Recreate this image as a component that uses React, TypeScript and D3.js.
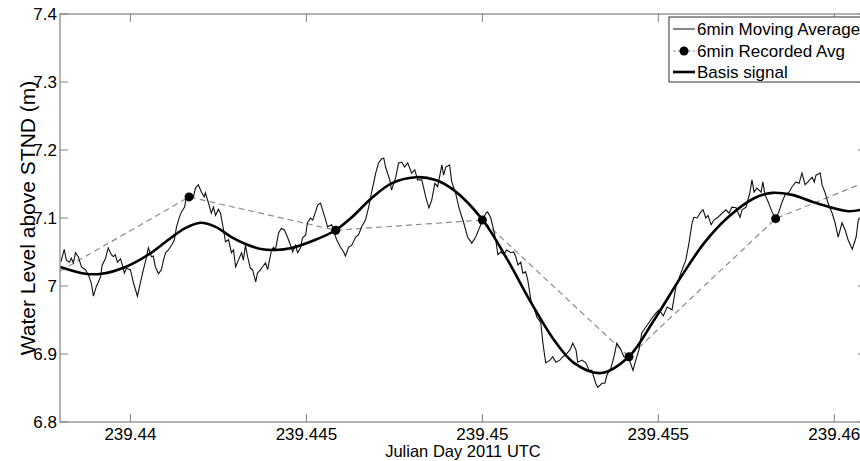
import React from "react";
import * as d3 from "d3";

// values
const xTicks = [239.44, 239.445, 239.45, 239.455, 239.46];
const yTicks = [6.8, 6.9, 7, 7.1, 7.2, 7.3, 7.4];

// 6 minute recorded averages (first and last fall just outside the view)
const recDays = [239.4375, 239.441667, 239.445833, 239.45, 239.454167, 239.458333, 239.4625];
const recLevel = [7.007, 7.131, 7.082, 7.097, 6.896, 7.099, 7.187];

// smooth basis signal
const basisDays = [
  239.43801, 239.43872, 239.43918, 239.43986, 239.44051, 239.44108, 239.44156, 239.44199,
  239.44242, 239.44287, 239.44336, 239.44375, 239.44412, 239.44458, 239.44526, 239.44583,
  239.44629, 239.44685, 239.44742, 239.44811, 239.44867, 239.44919, 239.45001, 239.45072,
  239.45138, 239.45203, 239.4526, 239.45337, 239.45416, 239.45488, 239.45564, 239.4563,
  239.45698, 239.45772, 239.45823, 239.4588, 239.45937, 239.45994, 239.46042, 239.46076,
];
const basisLevel = [
  7.028, 7.018, 7.018, 7.028, 7.046, 7.068, 7.085, 7.093,
  7.087, 7.072, 7.06, 7.054, 7.053, 7.056, 7.068, 7.082,
  7.101, 7.129, 7.151, 7.16, 7.156, 7.141, 7.097, 7.038,
  6.976, 6.921, 6.887, 6.872, 6.896, 6.95, 7.013, 7.063,
  7.101, 7.129, 7.137, 7.134, 7.124, 7.115, 7.11, 7.112,
];

// 6 minute moving average [day, level]
const movingAvg: [number, number][] = [
  [239.43803,7.036],[239.43812,7.054],[239.43818,7.038],[239.43827,7.035],[239.43832,7.041],[239.43838,7.034],[239.43844,7.049],[239.43852,7.043],[239.43861,7.028],[239.43872,7.024],[239.43881,7.016],[239.43889,7.004],[239.43895,6.985],[239.43903,6.999],[239.43915,7.013],[239.4392,7.031],[239.43929,7.04],[239.43937,7.056],[239.43946,7.046],[239.43952,7.043],[239.43957,7.046],[239.43963,7.035],[239.43972,7.04],[239.43977,7.031],[239.43983,7.019],[239.43989,7.026],[239.44,7.024],[239.44009,7.004],[239.4402,6.985],[239.44028,7.004],[239.44037,7.024],[239.44046,7.043],[239.44051,7.056],[239.4406,7.043],[239.44065,7.044],[239.44071,7.028],[239.4408,7.018],[239.44088,7.024],[239.44094,7.038],[239.441,7.049],[239.44108,7.053],[239.44117,7.06],[239.44125,7.068],[239.44131,7.087],[239.44139,7.101],[239.44145,7.109],[239.44154,7.116],[239.44159,7.131],[239.44171,7.135],[239.44179,7.131],[239.44185,7.144],[239.44193,7.149],[239.44202,7.138],[239.4421,7.131],[239.44213,7.137],[239.44222,7.122],[239.4423,7.107],[239.44236,7.116],[239.44242,7.104],[239.4425,7.113],[239.44256,7.107],[239.44265,7.082],[239.4427,7.065],[239.44279,7.068],[239.44287,7.049],[239.44293,7.053],[239.44299,7.028],[239.44307,7.038],[239.44316,7.049],[239.44321,7.038],[239.44327,7.06],[239.44333,7.043],[239.44341,7.026],[239.44347,7.024],[239.44356,7.006],[239.44361,7.019],[239.4437,7.024],[239.44375,7.028],
  [239.44384,7.034],[239.4439,7.024],[239.44401,7.053],[239.44407,7.057],[239.44412,7.053],[239.44421,7.078],[239.44429,7.085],[239.44438,7.082],[239.44447,7.071],[239.44455,7.06],[239.44461,7.05],[239.44469,7.06],[239.44475,7.049],[239.44484,7.057],[239.44489,7.071],[239.44498,7.075],[239.44503,7.093],[239.44512,7.1],[239.44518,7.097],[239.44526,7.109],[239.44532,7.119],[239.4454,7.122],[239.44546,7.112],[239.44555,7.097],[239.4456,7.087],[239.44572,7.09],[239.44577,7.082],[239.44586,7.068],[239.44597,7.057],[239.44606,7.05],[239.44611,7.044],[239.4462,7.057],[239.44629,7.06],[239.4464,7.072],[239.44648,7.075],[239.44657,7.087],[239.44668,7.097],[239.44677,7.116],[239.44685,7.137],[239.44697,7.166],[239.44705,7.181],[239.44714,7.187],[239.4472,7.188],[239.44725,7.175],[239.44737,7.156],[239.44742,7.141],[239.44754,7.16],[239.44762,7.181],[239.44771,7.182],[239.44779,7.175],[239.44788,7.181],[239.44799,7.166],[239.44808,7.171],[239.44816,7.156],[239.44828,7.156],[239.44839,7.131],[239.44848,7.115],[239.44856,7.126],[239.44865,7.151],[239.44873,7.146],[239.44885,7.178],[239.4489,7.163],[239.44896,7.175],[239.44907,7.178],[239.44913,7.153],[239.44924,7.137],[239.44933,7.116],
  [239.44947,7.093],[239.44958,7.072],[239.4497,7.063],[239.44981,7.072],[239.44993,7.087],[239.44998,7.094],[239.4501,7.107],[239.45015,7.109],[239.45024,7.1],[239.4503,7.087],[239.45038,7.068],[239.45044,7.046],[239.45052,7.05],[239.45061,7.046],[239.45069,7.053],[239.45081,7.049],[239.45089,7.05],[239.45095,7.043],[239.45101,7.031],[239.45109,7.035],[239.45115,7.019],[239.45123,7.021],[239.45129,7.009],[239.45138,6.979],[239.45146,6.969],[239.45155,6.954],[239.45166,6.946],[239.45172,6.916],[239.4518,6.887],[239.45192,6.891],[239.452,6.896],[239.45209,6.888],[239.4522,6.891],[239.45229,6.896],[239.45237,6.899],[239.45249,6.906],[239.45257,6.916],[239.45266,6.906],[239.45271,6.888],[239.45283,6.891],[239.45294,6.887],[239.45303,6.876],[239.45311,6.876],[239.45322,6.857],[239.45328,6.851],[239.4534,6.857],[239.45348,6.857],[239.45354,6.869],[239.45365,6.879],[239.45374,6.896],[239.45382,6.916],[239.45394,6.906],[239.45402,6.896],[239.45416,6.894],[239.45428,6.876],[239.45436,6.891],[239.45445,6.906],[239.45453,6.931],[239.45465,6.94],[239.45473,6.946],[239.45482,6.953],[239.45493,6.96],[239.45502,6.965],
  [239.45514,6.956],[239.45525,6.969],[239.45539,6.965],[239.4555,6.999],[239.45564,7.019],[239.45578,7.038],[239.45587,7.063],[239.45596,7.093],[239.45601,7.101],[239.4561,7.1],[239.45621,7.109],[239.45627,7.112],[239.45635,7.1],[239.45641,7.104],[239.4565,7.09],[239.45658,7.097],[239.45669,7.101],[239.45681,7.107],[239.45692,7.112],[239.45701,7.107],[239.45709,7.116],[239.45721,7.115],[239.45732,7.101],[239.45738,7.112],[239.45749,7.116],[239.4576,7.137],[239.45766,7.156],[239.45772,7.138],[239.4578,7.144],[239.45792,7.138],[239.45797,7.153],[239.45803,7.134],[239.45812,7.124],[239.45823,7.109],[239.45832,7.1],[239.45841,7.107],[239.45852,7.124],[239.4586,7.134],[239.45871,7.138],[239.4588,7.146],[239.45891,7.153],[239.459,7.151],[239.45908,7.166],[239.45917,7.149],[239.45925,7.153],[239.45937,7.16],[239.45943,7.153],[239.45948,7.163],[239.4596,7.166],[239.45965,7.149],[239.45974,7.137],[239.45982,7.122],[239.45994,7.107],[239.46002,7.093],[239.46011,7.072],[239.46022,7.093],[239.46031,7.082],[239.46039,7.068],[239.46051,7.054],[239.46062,7.072],[239.46068,7.097],[239.46076,7.101],
];

const W = 860;
const H = 461;
const left = 60, top = 14, right = 866, bottom = 422;
const axisGray = "#808080";
const font = "'Liberation Sans', Arial, Helvetica, sans-serif";

export default function App() {
  const x = d3.scaleLinear().domain([239.438, 239.4609]).range([left, right]);
  const y = d3.scaleLinear().domain([6.8, 7.4]).range([bottom, top]);

  const maLine = d3.line<[number, number]>()
    .x(d => x(d[0]))
    .y(d => y(d[1]));
  const basis = basisDays.map((d, i) => [d, basisLevel[i]] as [number, number]);
  const basisLine = d3.line<[number, number]>()
    .x(d => x(d[0]))
    .y(d => y(d[1]))
    .curve(d3.curveCatmullRom.alpha(0.5));
  const rec = recDays.map((d, i) => [d, recLevel[i]] as [number, number]);
  const recLine = d3.line<[number, number]>()
    .x(d => x(d[0]))
    .y(d => y(d[1]));

  const tickLen = 8;
  const legX = 669, legY = 17;

  return (
    <svg width={W} height={H} style={{ position: "absolute", left: 0, top: 0, background: "#fff" }} fontFamily={font}>
      <defs>
        <clipPath id="plot">
          <rect x={left} y={top} width={right - left} height={bottom - top} />
        </clipPath>
      </defs>

      <g clipPath="url(#plot)">
        <path d={recLine(rec) || ""} fill="none" stroke="#8c8c8c" strokeWidth={1.2} strokeDasharray="6,4" />
        <path d={maLine(movingAvg) || ""} fill="none" stroke="#111" strokeWidth={1.1} />
        <path d={basisLine(basis) || ""} fill="none" stroke="#000" strokeWidth={2.6} />
        {rec.map((d, i) => (
          <circle key={i} cx={x(d[0])} cy={y(d[1])} r={4.5} fill="#000" />
        ))}
      </g>

      {/* axes box */}
      <rect x={left} y={top} width={right - left} height={bottom - top} fill="none" stroke={axisGray} strokeWidth={1.2} />

      {xTicks.map(t => (
        <g key={t}>
          <line x1={x(t)} x2={x(t)} y1={bottom} y2={bottom - tickLen} stroke={axisGray} />
          <line x1={x(t)} x2={x(t)} y1={top} y2={top + tickLen} stroke={axisGray} />
          <text x={x(t)} y={440} textAnchor="middle" fontSize={17} fill="#000">{t}</text>
        </g>
      ))}
      {yTicks.map(t => (
        <g key={t}>
          <line x1={left} x2={left + tickLen} y1={y(t)} y2={y(t)} stroke={axisGray} />
          <line x1={right} x2={right - tickLen} y1={y(t)} y2={y(t)} stroke={axisGray} />
          <text x={57} y={y(t)} dy="0.35em" textAnchor="end" fontSize={17} fill="#000">{String(t)}</text>
        </g>
      ))}

      <text x={(left + right) / 2} y={457} textAnchor="middle" fontSize={16.5} fill="#000">Julian Day 2011 UTC</text>
      <text transform={`translate(35,${(top + bottom) / 2}) rotate(-90)`} textAnchor="middle" fontSize={21} fill="#000">
        Water Level above STND (m)
      </text>

      {/* legend */}
      <g>
        <rect x={legX} y={legY} width={210} height={65} fill="#fff" stroke="#333" strokeWidth={1} />
        <line x1={673} x2={695} y1={29} y2={29} stroke="#111" strokeWidth={1} />
        <text x={697} y={29} dy="0.35em" fontSize={17}>6min Moving Average</text>
        <line x1={673} x2={695} y1={51} y2={51} stroke="#8c8c8c" strokeWidth={1.2} strokeDasharray="3,2" />
        <circle cx={684} cy={51} r={4.5} fill="#000" />
        <text x={697} y={51} dy="0.35em" fontSize={17}>6min Recorded Avg</text>
        <line x1={673} x2={695} y1={72} y2={72} stroke="#000" strokeWidth={2.6} />
        <text x={697} y={72} dy="0.35em" fontSize={17}>Basis signal</text>
      </g>
    </svg>
  );
}
